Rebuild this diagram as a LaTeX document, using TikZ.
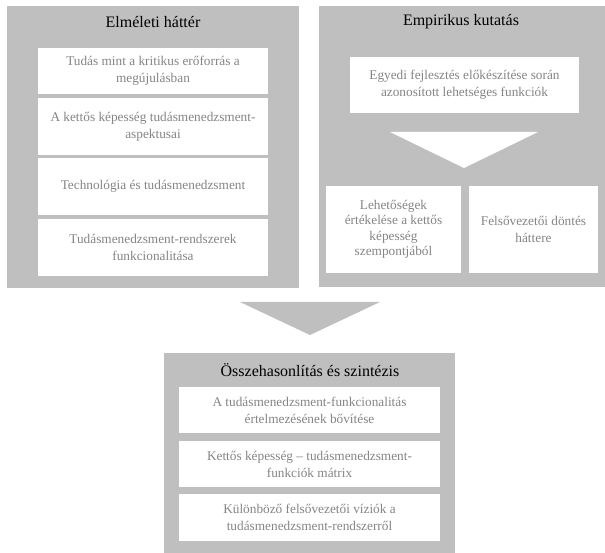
\documentclass[tikz,border=0pt]{standalone}
\usepackage{fontspec}
\setmainfont{Liberation Serif}
\usetikzlibrary{positioning}
\definecolor{panelgray}{RGB}{191,191,191}
\definecolor{itemgray}{RGB}{133,133,133}

\begin{document}
\begin{tikzpicture}[x=1pt,y=-1pt,
    panel/.style={fill=panelgray, inner sep=0pt},
    item/.style={fill=white, inner sep=0pt, align=center, text=itemgray,
        font=\fontsize{13.3}{17}\selectfont},
    heading/.style={font=\fontsize{16}{19}\selectfont}]
\useasboundingbox (0,0) rectangle (605,553);

% Theory panel
\node[panel, minimum width=292pt, minimum height=282pt] (theory) at (153,147) {};
\node[heading] (theorytitle) at (153,22) {Elméleti háttér};
\node[item, minimum width=230pt, minimum height=46pt] (resource) at (153,71)
    {Tudás mint a kritikus erőforrás a\\megújulásban};
\node[item, minimum width=230pt, minimum height=57pt] (ambidex) at (153,126.5)
    {A kettős képesség tudásmenedzsment-\\aspektusai};
\node[item, minimum width=230pt, minimum height=57pt] (techno) at (153,186.5)
    {Technológia és tudásmenedzsment};
\node[item, minimum width=230pt, minimum height=57pt] (kmsys) at (153,247.5)
    {Tudásmenedzsment-rendszerek\\funkcionalitása};

% Empirical panel
\node[panel, minimum width=286pt, minimum height=281pt] (empiric) at (462,146.5) {};
\node[heading] (empirictitle) at (461,22) {Empirikus kutatás};
\node[item, minimum width=229pt, minimum height=56pt] (ideas) at (464.5,85)
    {Egyedi fejlesztés előkészítése során\\azonosított lehetséges funkciók};
\fill[white] (390,132) -- (538,132) -- (464,168) -- cycle;
\node[item, minimum width=135pt, minimum height=87pt, font=\fontsize{13.3}{15.5}\selectfont]
    (evaluation) at (393.5,229.5)
    {Lehetőségek\\értékelése a kettős\\képesség\\szempontjából};
\node[item, minimum width=129pt, minimum height=87pt] (decision) at (533.5,229.5)
    {Felsővezetői döntés\\háttere};

% Arrow down
\fill[panelgray] (240,302) -- (380,302) -- (310,335) -- cycle;

% Synthesis panel
\node[panel, minimum width=291pt, minimum height=200pt] (synth) at (309.5,453) {};
\node[heading] (synthtitle) at (310,370) {Összehasonlítás és szintézis};
\node[item, minimum width=261pt, minimum height=46pt] (extend) at (309.5,410)
    {A tudásmenedzsment-funkcionalitás\\értelmezésének bővítése};
\node[item, minimum width=261pt, minimum height=46pt] (matrix) at (309.5,464)
    {Kettős képesség \textendash{} tudásmenedzsment-\\funkciók mátrix};
\node[item, minimum width=261pt, minimum height=47pt] (visions) at (309.5,517.5)
    {Különböző felsővezetői víziók a\\tudásmenedzsment-rendszerről};
\end{tikzpicture}
\end{document}
